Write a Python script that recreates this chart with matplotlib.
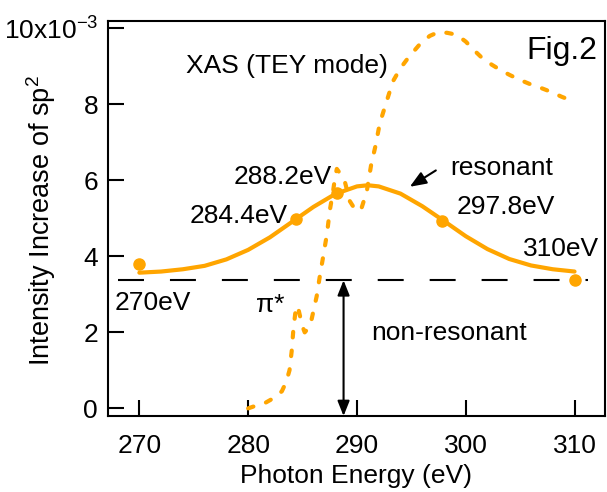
import matplotlib
matplotlib.use("Agg")
import matplotlib.pyplot as plt

plt.rcParams['font.family'] = ['Liberation Sans', 'DejaVu Sans']
plt.rcParams['mathtext.fontset'] = 'custom'
plt.rcParams['mathtext.rm'] = 'Liberation Sans'
plt.rcParams['mathtext.it'] = 'Liberation Sans:italic'
plt.rcParams['mathtext.default'] = 'regular'
plt.rcParams['lines.scale_dashes'] = False

ORANGE = '#FFA500'

# Resonant curve (units of 1e-3)
res_x = [270, 272, 274, 276, 278, 280, 282, 284, 286, 288, 290, 291, 292, 294,
         296, 298, 300, 302, 304, 306, 308, 310]
res_y = [3.57, 3.60, 3.66, 3.75, 3.92, 4.17, 4.50, 4.90, 5.30, 5.64, 5.84, 5.87,
         5.84, 5.65, 5.32, 4.93, 4.53, 4.19, 3.93, 3.76, 3.66, 3.60]

# Measured points
pts_x = [270, 284.4, 288.2, 297.8, 310]
pts_y = [3.80, 4.97, 5.67, 4.92, 3.38]
pts_labels = ['270eV', '284.4eV', '288.2eV', '297.8eV', '310eV']

# XAS (TEY mode) spectrum, arbitrary scale
xas_x = [280.0, 280.8, 281.6, 282.4, 283.1, 283.5, 283.8, 284.0, 284.15, 284.35,
         284.55, 284.75, 285.0, 285.2, 285.5, 285.8, 286.3, 286.6, 286.9, 287.25,
         287.5, 287.8, 288.0, 288.15, 288.4, 288.9, 289.35, 289.9, 290.4, 290.9,
         291.3, 291.7, 292.1, 292.7, 293.3, 294.0, 294.6, 295.3, 295.9, 296.7,
         297.5, 298.3, 299.15, 300.0, 300.7, 301.5, 302.4, 303.2, 304.05, 305.0,
         306.0, 307.0, 307.9, 308.8, 309.7, 310.0]
xas_y = [0.0, 0.08, 0.15, 0.28, 0.45, 0.7, 1.0, 1.5, 2.05, 2.55,
         2.7, 2.45, 2.15, 2.0, 2.1, 2.3, 2.95, 3.5, 4.0, 4.6,
         5.2, 5.7, 6.1, 6.3, 6.2, 5.95, 5.45, 5.2, 5.25, 5.7,
         6.4, 6.9, 7.5, 8.05, 8.6, 8.95, 9.18, 9.42, 9.62, 9.8,
         9.9, 9.88, 9.83, 9.65, 9.44, 9.22, 9.04, 8.9, 8.77, 8.64,
         8.52, 8.42, 8.32, 8.2, 8.1, 8.07]

nonres_level = 3.37
nonres_x = [268.0, 311.2]
arrow_x = 288.77

xticks = [270, 280, 290, 300, 310]
yticks = [0, 2, 4, 6, 8, 10]
ytick_labels = ['0', '2', '4', '6', '8', '10x10$^{-3}$']

fig = plt.figure(figsize=(6.07, 4.92), dpi=100)
ax = fig.add_axes([0.1776, 0.1545, 0.8191, 0.8035])

ax.set_xlim(267.1, 312.8)
ax.set_ylim(-0.2, 10.2)

# non-resonant dashed line
ax.plot(nonres_x, [nonres_level, nonres_level], color='black', lw=1.5,
        dashes=(18.7, 18.7), dash_capstyle='butt', zorder=2)

# XAS dashed curve
ax.plot(xas_x, xas_y, color=ORANGE, lw=3.0, dashes=(4.0, 9.5),
        dash_capstyle='round', solid_capstyle='round', zorder=3)

# resonant curve
ax.plot(res_x, res_y, color=ORANGE, lw=3.0, solid_capstyle='round', zorder=4)
ax.plot(pts_x, pts_y, 'o', color=ORANGE, ms=8, mec=ORANGE, zorder=5)

fs = 19
# point labels
ax.text(271.27, 2.60, '270eV', fontsize=fs, ha='center', va='baseline')
ax.text(279.16, 4.88, '284.4eV', fontsize=fs, ha='center', va='baseline')
ax.text(287.67, 5.90, '288.2eV', fontsize=fs, ha='right', va='baseline')
ax.text(303.64, 5.12, '297.8eV', fontsize=fs, ha='center', va='baseline')
ax.text(308.79, 4.02, '310eV', fontsize=fs, ha='center', va='baseline')

ax.text(282.07, 2.53, 'π*', fontsize=fs, ha='center', va='baseline')
ax.text(298.6, 6.14, 'resonant', fontsize=fs, ha='left', va='baseline')
ax.text(291.34, 1.81, 'non-resonant', fontsize=fs, ha='left', va='baseline')
ax.text(274.27, 8.83, 'XAS (TEY mode)', fontsize=fs, ha='left', va='baseline')
ax.text(305.59, 9.19, 'Fig.2', fontsize=23, ha='left', va='baseline')

# arrow to resonant curve
ax.annotate('', xy=(294.86, 5.83), xytext=(297.25, 6.26),
            arrowprops=dict(arrowstyle='-|>,head_length=0.55,head_width=0.22',
                            mutation_scale=18, color='black', lw=1.5,
                            shrinkA=0, shrinkB=0))

# double arrow for non-resonant
ax.annotate('', xy=(arrow_x, -0.2), xytext=(arrow_x, nonres_level),
            arrowprops=dict(arrowstyle='<|-|>,head_length=0.5,head_width=0.2',
                            mutation_scale=18, color='black', lw=1.5,
                            shrinkA=0, shrinkB=0))

ax.set_xticks(xticks)
ax.set_xticklabels([str(t) for t in xticks])
ax.set_yticks(yticks)
ax.set_yticklabels(ytick_labels)
ax.tick_params(direction='in', length=11.5, width=1.5, labelsize=fs,
               top=False, right=False)
ax.tick_params(axis='x', pad=13)
ax.tick_params(axis='y', pad=7)
for s in ax.spines.values():
    s.set_linewidth(1.5)

ax.set_xlabel('Photon Energy (eV)', fontsize=fs, labelpad=4)
fig.text(58 / 607, 1 - 221 / 492, 'Intensity Increase of sp$^2$', fontsize=19.5,
         rotation=90, ha='right', va='center')

fig.savefig('out.png', dpi=100)
